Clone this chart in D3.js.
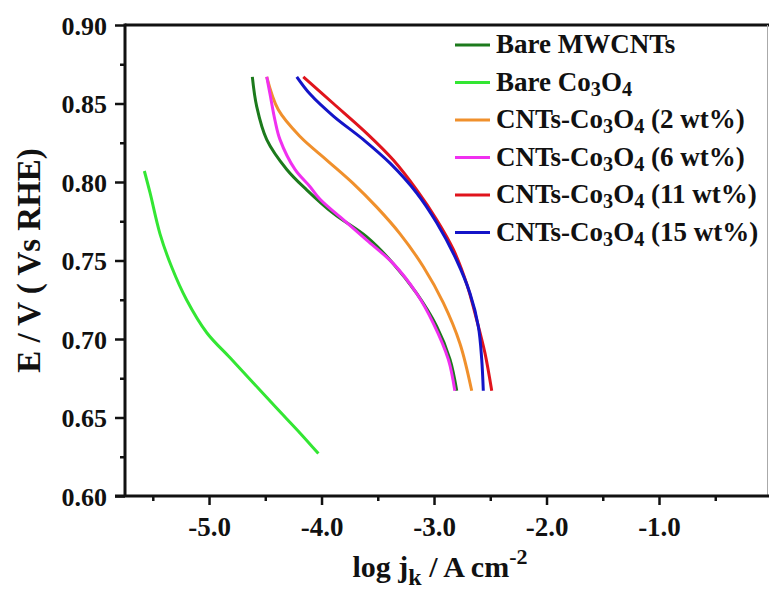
<!DOCTYPE html>
<html>
<head>
<meta charset="utf-8">
<script src="https://cdn.jsdelivr.net/npm/d3@7"></script>
<style>
  html, body { margin: 0; padding: 0; background: #fff; }
  svg text { font-family: "Liberation Serif", "Times New Roman", serif; font-weight: bold; fill: #111; }
</style>
</head>
<body>
<svg id="chart" width="769" height="590"></svg>
<script>
// ---- data ----
const seriesNames = ["Bare MWCNTs", "Bare Co3O4", "CNTs-Co3O4 (2 wt%)", "CNTs-Co3O4 (6 wt%)", "CNTs-Co3O4 (11 wt%)", "CNTs-Co3O4 (15 wt%)"];
const seriesColors = ["#1c7a1c", "#33e633", "#f0902c", "#f030f0", "#e0141c", "#1414c8"];

const mwcntsX = [-4.615, -4.576, -4.487, -4.309, -4.132, -3.895, -3.598, -3.362, -3.154, -2.976, -2.858, -2.798];
const mwcntsY = [0.867, 0.848, 0.827, 0.808, 0.795, 0.780, 0.765, 0.748, 0.729, 0.708, 0.687, 0.667];

const co3o4X = [-5.575, -5.524, -5.436, -5.333, -5.200, -5.020, -4.813, -4.606, -4.400, -4.190, -4.028];
const co3o4Y = [0.807, 0.793, 0.767, 0.746, 0.725, 0.704, 0.688, 0.672, 0.656, 0.640, 0.627];

const wt2X = [-4.487, -4.384, -4.191, -3.954, -3.717, -3.509, -3.302, -3.095, -2.917, -2.769, -2.665];
const wt2Y = [0.867, 0.846, 0.829, 0.814, 0.799, 0.784, 0.767, 0.746, 0.723, 0.697, 0.667];

const wt6X = [-4.487, -4.458, -4.413, -4.369, -4.236, -4.102, -4.013, -3.807, -3.598, -3.362, -3.154, -3.006, -2.873, -2.815];
const wt6Y = [0.867, 0.856, 0.839, 0.827, 0.808, 0.797, 0.789, 0.776, 0.763, 0.748, 0.729, 0.710, 0.687, 0.667];

const wt11X = [-4.162, -3.895, -3.598, -3.362, -3.154, -2.976, -2.828, -2.709, -2.620, -2.547, -2.487];
const wt11Y = [0.867, 0.850, 0.831, 0.814, 0.795, 0.776, 0.757, 0.735, 0.712, 0.691, 0.667];

const wt15X = [-4.220, -4.102, -3.895, -3.628, -3.391, -3.154, -2.976, -2.798, -2.680, -2.606, -2.576, -2.562];
const wt15Y = [0.867, 0.856, 0.842, 0.827, 0.812, 0.793, 0.774, 0.750, 0.729, 0.708, 0.687, 0.667];

const xTicks = [-5.0, -4.0, -3.0, -2.0, -1.0];
const xMinorTicks = [-5.5, -4.5, -3.5, -2.5, -1.5, -0.5];
const yTicks = [0.60, 0.65, 0.70, 0.75, 0.80, 0.85, 0.90];
const yMinorTicks = [0.625, 0.675, 0.725, 0.775, 0.825, 0.875];

const allX = [mwcntsX, co3o4X, wt2X, wt6X, wt11X, wt15X];
const allY = [mwcntsY, co3o4Y, wt2Y, wt6Y, wt11Y, wt15Y];

// ---- layout ----
const L = 125, R = 767, T = 25, B = 496;
const svg = d3.select("#chart");
const x = d3.scaleLinear().domain([-5.747, -0.04]).range([L, R]);
const y = d3.scaleLinear().domain([0.60, 0.90]).range([B, T]);

// frame: top thick, right thin grey
svg.append("line").attr("x1", L).attr("x2", 769).attr("y1", T).attr("y2", T)
  .attr("stroke", "#111").attr("stroke-width", 3);
svg.append("line").attr("x1", R + 0.5).attr("x2", R + 0.5).attr("y1", T).attr("y2", B)
  .attr("stroke", "#aaa").attr("stroke-width", 1);

// axes
const yAxis = d3.axisLeft(y).tickValues(yTicks).tickFormat(d => d.toFixed(2)).tickSize(10).tickPadding(8);
const gy = svg.append("g").attr("transform", `translate(${L},0)`).call(yAxis);
gy.select(".domain").remove();
gy.selectAll(".tick line").attr("stroke", "#111").attr("stroke-width", 2.5);
gy.selectAll(".tick text").style("font-size", "26px").attr("dy", "0.35em");
const gym = svg.append("g").attr("transform", `translate(${L},0)`)
  .call(d3.axisLeft(y).tickValues(yMinorTicks).tickSize(5).tickFormat(""));
gym.select(".domain").remove();
gym.selectAll(".tick line").attr("stroke", "#111").attr("stroke-width", 2.5);

const xAxis = d3.axisBottom(x).tickValues(xTicks).tickFormat(d => d.toFixed(1)).tickSize(9).tickPadding(12);
const gx = svg.append("g").attr("transform", `translate(0,${B})`).call(xAxis);
gx.select(".domain").remove();
gx.selectAll(".tick line").attr("stroke", "#111").attr("stroke-width", 2.5);
gx.selectAll(".tick text").style("font-size", "27px");
const gxm = svg.append("g").attr("transform", `translate(0,${B})`)
  .call(d3.axisBottom(x).tickValues(xMinorTicks).tickSize(5).tickFormat(""));
gxm.select(".domain").remove();
gxm.selectAll(".tick line").attr("stroke", "#111").attr("stroke-width", 2.5);

// axis lines
svg.append("line").attr("x1", L).attr("x2", L).attr("y1", T - 1.5).attr("y2", B + 1)
  .attr("stroke", "#111").attr("stroke-width", 3);
svg.append("line").attr("x1", L - 10).attr("x2", 769).attr("y1", B).attr("y2", B)
  .attr("stroke", "#111").attr("stroke-width", 3);

// curves
const line = d3.line().x(d => x(d[0])).y(d => y(d[1])).curve(d3.curveCatmullRom.alpha(0.5));
const drawOrder = [1, 0, 2, 3, 4, 5];
drawOrder.forEach(i => {
  const pts = allX[i].map((v, k) => [v, allY[i][k]]);
  svg.append("path").attr("d", line(pts)).attr("fill", "none")
    .attr("stroke", seriesColors[i]).attr("stroke-width", 3).attr("stroke-linejoin", "round");
});

// legend
const legY0 = 45, legDy = 37.5, legX1 = 455, legX2 = 490, legTx = 496;
function addLabel(g, name, xx, yy, size) {
  const t = g.append("text").attr("x", xx).attr("y", yy).style("font-size", size + "px");
  const m = name.match(/^(.*?)Co3O4(.*)$/);
  if (!m) { t.text(name); return t; }
  t.append("tspan").text(m[1] + "Co");
  t.append("tspan").text("3").style("font-size", (size * 0.75) + "px").attr("dy", size * 0.2);
  t.append("tspan").text("O").attr("dy", -size * 0.2);
  t.append("tspan").text("4").style("font-size", (size * 0.75) + "px").attr("dy", size * 0.2);
  t.append("tspan").text(m[2]).attr("dy", -size * 0.2);
  return t;
}
seriesNames.forEach((name, i) => {
  const yy = legY0 + i * legDy;
  svg.append("line").attr("x1", legX1).attr("x2", legX2).attr("y1", yy).attr("y2", yy)
    .attr("stroke", seriesColors[i]).attr("stroke-width", 3);
  addLabel(svg, name, legTx, yy + 8, 27);
});

// axis titles
const xt = svg.append("text").attr("x", 440).attr("y", 577).attr("text-anchor", "middle").style("font-size", "30px");
xt.append("tspan").text("log j");
xt.append("tspan").text("k").style("font-size", "24px").attr("dy", 8);
xt.append("tspan").text(" / A cm").attr("dy", -8);
xt.append("tspan").text("-2").style("font-size", "22px").attr("dy", -13);

svg.append("text").attr("transform", `translate(40,${(T + B) / 2}) rotate(-90)`)
  .attr("text-anchor", "middle").style("font-size", "33px").text("E / V ( Vs RHE)");
</script>
</body>
</html>
